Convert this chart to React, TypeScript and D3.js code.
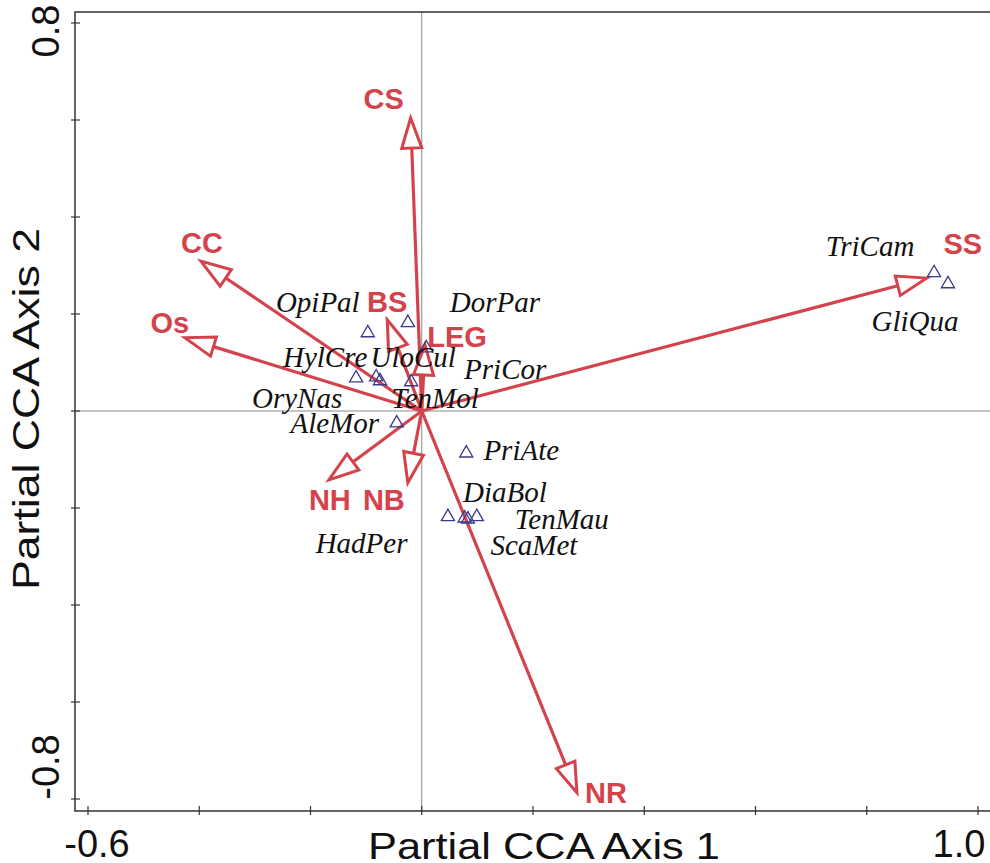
import React, { useEffect, useRef } from "react";
import * as d3 from "d3";

// environmental variables (biplot arrows)
const envNames = ["CS", "CC", "Os", "BS", "LEG", "NH", "NB", "NR", "SS"];
const envAxis1 = [-0.02, -0.397, -0.426, -0.062, 0.006, -0.167, -0.025, 0.279, 0.908];
const envAxis2 = [0.604, 0.309, 0.151, 0.188, 0.136, -0.142, -0.148, -0.787, 0.274];

// species scores
const speciesNames = [
  "TriCam", "GliQua", "OpiPal", "DorPar", "UloCul", "HylCre", "OryNas", "PriCor",
  "TenMol", "AleMor", "PriAte", "DiaBol", "TenMau", "ScaMet", "HadPer",
];
const speciesAxis1 = [0.921, 0.946, -0.097, -0.025, 0.008, -0.118, -0.082, -0.019, -0.075, -0.045, 0.08, 0.047, 0.099, 0.083, 0.077];
const speciesAxis2 = [0.287, 0.264, 0.163, 0.184, 0.132, 0.07, 0.072, 0.062, 0.064, -0.023, -0.085, -0.216, -0.216, -0.221, -0.219];

const xTicks = [-0.6, -0.4, -0.2, 0, 0.2, 0.4, 0.6, 0.8, 1.0];
const yTicks = [-0.8, -0.6, -0.4, -0.2, 0, 0.2, 0.4, 0.6, 0.8];
const xTickLabels = ["-0.6", "1.0"];
const yTickLabels = ["-0.8", "0.8"];

// label placement (pixel offsets from the mark)
const envLabelOffset: [number, number][] = [
  [-27, -19], [1, -18], [-15, -15], [0, -18], [32, -8], [1, 20], [-24, 17], [29, 0], [36, -34],
];
const speciesLabelOffset: [number, number][] = [
  [-64, -26], [-33, 38], [-50, -30], [87, -20], [-13, 10], [-31, -20], [-79, 22], [94, -12],
  [55, 18], [-62, 1], [55, -2], [57, -24], [85, 3], [66, 27], [-103, 26],
];

const RED = "#d4434c";
const BLUE = "#3a3a8c";

const App: React.FC = () => {
  const ref = useRef<SVGSVGElement>(null);

  useEffect(() => {
    if (!ref.current) return;
    const svg = d3.select(ref.current);
    svg.selectAll("*").remove();

    const W = 990;
    const H = 863;
    const frame = { left: 75, top: 12, bottom: 811, right: W };

    const x = d3.scaleLinear().domain([-0.6, 1.0]).range([88, 978]);
    const y = d3.scaleLinear().domain([-0.8, 0.8]).range([799, 23]);

    svg.append("rect").attr("width", W).attr("height", H).attr("fill", "#fff");

    // zero lines
    svg.append("line")
      .attr("x1", x(0)).attr("x2", x(0))
      .attr("y1", frame.top).attr("y2", frame.bottom)
      .attr("stroke", "#8a8a8a").attr("stroke-width", 1);
    svg.append("line")
      .attr("x1", frame.left).attr("x2", frame.right)
      .attr("y1", y(0)).attr("y2", y(0))
      .attr("stroke", "#8a8a8a").attr("stroke-width", 1);

    // frame
    const axisCol = "#333";
    svg.append("path")
      .attr("d", `M${frame.right},${frame.top}H${frame.left}V${frame.bottom}H${frame.right}`)
      .attr("fill", "none").attr("stroke", axisCol).attr("stroke-width", 1.5);

    svg.selectAll("line.xt").data(xTicks).enter().append("line")
      .attr("x1", (d) => x(d)).attr("x2", (d) => x(d))
      .attr("y1", frame.bottom - 5).attr("y2", frame.bottom + 4)
      .attr("stroke", axisCol).attr("stroke-width", 1.2);
    svg.selectAll("line.yt").data(yTicks).enter().append("line")
      .attr("x1", frame.left - 4).attr("x2", frame.left + 5)
      .attr("y1", (d) => y(d)).attr("y2", (d) => y(d))
      .attr("stroke", axisCol).attr("stroke-width", 1.2);

    const sans = "'Liberation Sans', Arial, sans-serif";

    // tick labels, only the end ticks are labelled
    svg.append("text")
      .attr("x", x(-0.6) + 9).attr("y", 857)
      .attr("text-anchor", "middle")
      .attr("font-family", sans).attr("font-size", 38).attr("fill", "#111")
      .text(xTickLabels[0]);
    svg.append("text")
      .attr("x", x(1.0) - 19).attr("y", 857)
      .attr("text-anchor", "middle")
      .attr("font-family", sans).attr("font-size", 38).attr("fill", "#111")
      .text(xTickLabels[1]);
    svg.append("text")
      .attr("transform", `translate(59,${y(-0.8) - 32}) rotate(-90)`)
      .attr("text-anchor", "middle")
      .attr("font-family", sans).attr("font-size", 38).attr("fill", "#111")
      .text(yTickLabels[0]);
    svg.append("text")
      .attr("transform", `translate(59,${y(0.8) + 8}) rotate(-90)`)
      .attr("text-anchor", "middle")
      .attr("font-family", sans).attr("font-size", 38).attr("fill", "#111")
      .text(yTickLabels[1]);

    // axis titles
    svg.append("text")
      .attr("x", 544).attr("y", 859)
      .attr("text-anchor", "middle")
      .attr("font-family", sans).attr("font-size", 37).attr("fill", "#111")
      .attr("textLength", 352).attr("lengthAdjust", "spacingAndGlyphs")
      .text("Partial CCA Axis 1");
    svg.append("text")
      .attr("transform", `translate(39,409) rotate(-90)`)
      .attr("text-anchor", "middle")
      .attr("font-family", sans).attr("font-size", 37).attr("fill", "#111")
      .attr("textLength", 362).attr("lengthAdjust", "spacingAndGlyphs")
      .text("Partial CCA Axis 2");

    // arrows
    const env = envNames.map((name, i) => ({ name, a1: envAxis1[i], a2: envAxis2[i], off: envLabelOffset[i] }));
    const headLen = 30;
    const headHalf = 10;
    const ox = x(0);
    const oy = y(0);

    const arrows = svg.append("g");
    env.forEach((d) => {
      const tx = x(d.a1);
      const ty = y(d.a2);
      const len = Math.hypot(tx - ox, ty - oy);
      const ux = (tx - ox) / len;
      const uy = (ty - oy) / len;
      const bx = tx - ux * headLen;
      const by = ty - uy * headLen;
      arrows.append("line")
        .attr("x1", ox).attr("y1", oy).attr("x2", bx).attr("y2", by)
        .attr("stroke", RED).attr("stroke-width", 3.2).attr("stroke-linecap", "round");
      const p1 = [bx - uy * headHalf, by + ux * headHalf];
      const p2 = [bx + uy * headHalf, by - ux * headHalf];
      arrows.append("path")
        .attr("d", `M${tx},${ty}L${p1[0]},${p1[1]}L${p2[0]},${p2[1]}Z`)
        .attr("fill", "#fff").attr("stroke", RED).attr("stroke-width", 3)
        .attr("stroke-linejoin", "miter");
    });

    // species triangles
    const species = speciesNames.map((name, i) => ({ name, a1: speciesAxis1[i], a2: speciesAxis2[i], off: speciesLabelOffset[i] }));
    const tri = d3.symbol().type(d3.symbolTriangle).size(75);
    svg.selectAll("path.sp").data(species).enter().append("path")
      .attr("d", tri)
      .attr("transform", (d) => `translate(${x(d.a1)},${y(d.a2) + 1})`)
      .attr("fill", "none").attr("stroke", BLUE).attr("stroke-width", 1.3);

    // species labels
    svg.selectAll("text.sp").data(species).enter().append("text")
      .attr("x", (d) => x(d.a1) + d.off[0])
      .attr("y", (d) => y(d.a2) + d.off[1])
      .attr("text-anchor", "middle").attr("dominant-baseline", "central")
      .attr("font-family", "'Liberation Serif', 'Times New Roman', serif")
      .attr("font-style", "italic").attr("font-size", 29).attr("fill", "#111")
      .text((d) => d.name);

    // variable labels
    svg.selectAll("text.env").data(env).enter().append("text")
      .attr("x", (d) => x(d.a1) + d.off[0])
      .attr("y", (d) => y(d.a2) + d.off[1])
      .attr("text-anchor", "middle").attr("dominant-baseline", "central")
      .attr("font-family", sans).attr("font-weight", "bold")
      .attr("font-size", 29).attr("fill", RED)
      .text((d) => d.name);
  }, []);

  return (
    <svg
      ref={ref}
      width={990}
      height={863}
      style={{ position: "absolute", left: 0, top: 0 }}
    />
  );
};

export default App;
